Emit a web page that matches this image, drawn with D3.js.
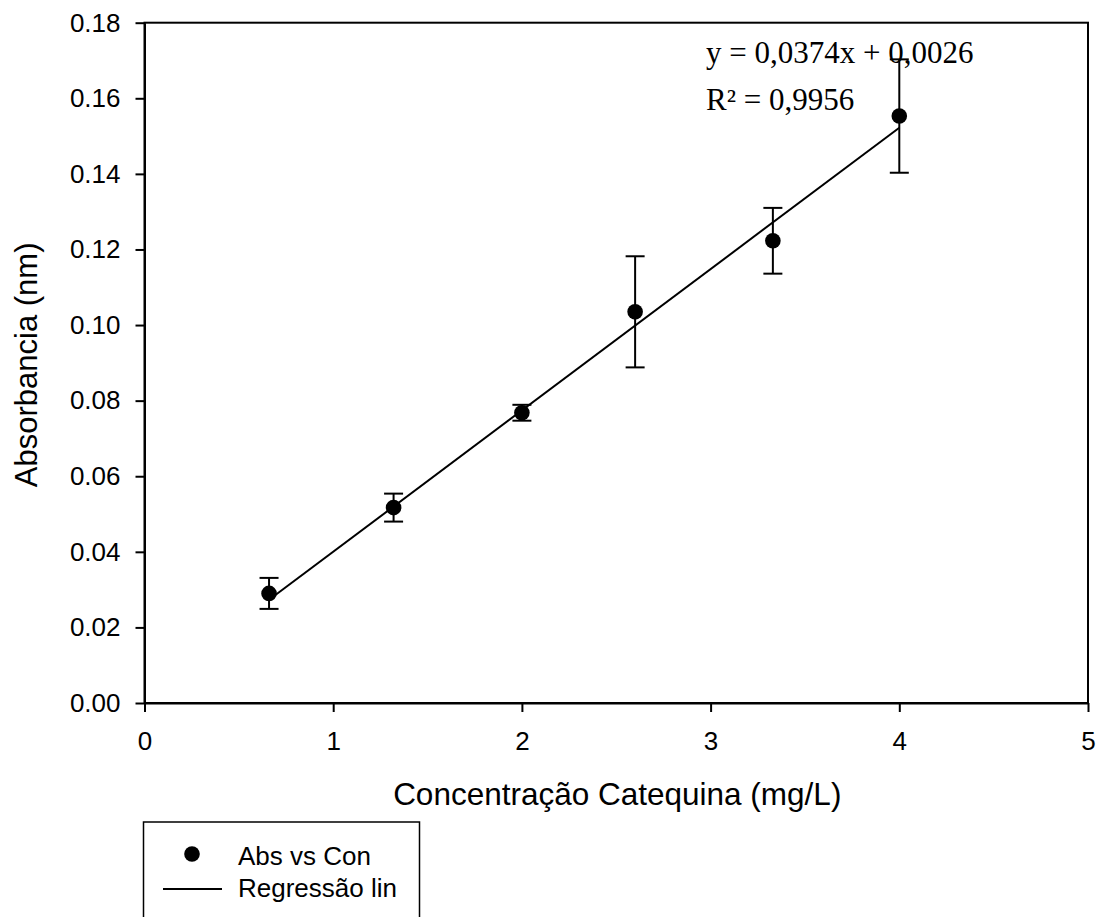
<!DOCTYPE html>
<html>
<head>
<meta charset="utf-8">
<script src="https://cdn.jsdelivr.net/npm/d3@7"></script>
<style>
  html, body { margin: 0; padding: 0; background: #fff; }
  svg { display: block; }
  text { font-family: "Liberation Sans", Arial, sans-serif; fill: #000; }
</style>
</head>
<body>
<svg id="chart" width="1100" height="917"></svg>
<script>
// ---- data ----
const concentration = [0.66, 1.32, 2.0, 2.6, 3.33, 4.0];
const absorbance   = [0.0290, 0.0517, 0.0768, 0.1035, 0.1223, 0.1553];
const errorSD      = [0.0041, 0.0037, 0.0021, 0.0147, 0.0087, 0.0150];
const regX = [0.66, 4.0];
const regY = [0.0273, 0.1522];
const xTicks = [0, 1, 2, 3, 4, 5];
const yTicks = [0, 0.02, 0.04, 0.06, 0.08, 0.10, 0.12, 0.14, 0.16, 0.18];
const equationText = "y = 0,0374x + 0,0026";
const r2Text = "R² = 0,9956";
const legendLabels = ["Abs vs Con", "Regressão lin"];
const xTitle = "Concentração Catequina (mg/L)";
const yTitle = "Absorbancia (nm)";

// ---- layout ----
const L = 144.5, R = 1088, T = 22.7, B = 703;
const svg = d3.select("#chart");
const x = d3.scaleLinear().domain([0, 5]).range([L, R]);
const y = d3.scaleLinear().domain([0, 0.18]).range([B, T]);

// frame
svg.append("rect")
  .attr("x", L).attr("y", T).attr("width", R - L).attr("height", B - T)
  .attr("fill", "none").attr("stroke", "#000").attr("stroke-width", 2);

// axes
const yAxis = d3.axisLeft(y).tickValues(yTicks).tickFormat(d3.format(".2f"))
  .tickSize(9).tickSizeOuter(0).tickPadding(15);
const gy = svg.append("g").attr("transform", `translate(${L},0)`).call(yAxis);
const xAxis = d3.axisBottom(x).tickValues(xTicks).tickFormat(d3.format("d"))
  .tickSize(9).tickSizeOuter(0).tickPadding(20);
const gx = svg.append("g").attr("transform", `translate(0,${B})`).call(xAxis);
[gx, gy].forEach(g => {
  g.select(".domain").attr("stroke", "#000").attr("stroke-width", 2);
  g.selectAll(".tick line").attr("stroke", "#000").attr("stroke-width", 2);
  g.selectAll(".tick text").attr("font-size", 26).attr("fill", "#000")
    .style("font-family", "'Liberation Sans', Arial, sans-serif");
});

// titles
svg.append("text").attr("x", (L + R) / 2 + 1).attr("y", 805)
  .attr("text-anchor", "middle").attr("font-size", 31.5).text(xTitle);
svg.append("text").attr("transform", `translate(37,${(T + B) / 2 + 2}) rotate(-90)`)
  .attr("text-anchor", "middle").attr("font-size", 31).text(yTitle);

// regression line
svg.append("line")
  .attr("x1", x(regX[0])).attr("y1", y(regY[0]))
  .attr("x2", x(regX[1])).attr("y2", y(regY[1]))
  .attr("stroke", "#000").attr("stroke-width", 2);

// error bars
const pts = concentration.map((c, i) => ({ c, a: absorbance[i], e: errorSD[i] }));
const eb = svg.append("g").attr("stroke", "#000").attr("stroke-width", 2);
pts.forEach(p => {
  eb.append("line").attr("x1", x(p.c)).attr("x2", x(p.c))
    .attr("y1", y(p.a + p.e)).attr("y2", y(p.a - p.e));
  [p.a + p.e, p.a - p.e].forEach(v => {
    eb.append("line").attr("x1", x(p.c) - 9.5).attr("x2", x(p.c) + 9.5)
      .attr("y1", y(v)).attr("y2", y(v));
  });
});

// points
svg.append("g").selectAll("circle").data(pts).join("circle")
  .attr("cx", d => x(d.c)).attr("cy", d => y(d.a)).attr("r", 7.8).attr("fill", "#000");

// equation text
svg.append("text").attr("x", 706).attr("y", 63)
  .style("font-family", "'Liberation Serif', 'Times New Roman', serif")
  .attr("font-size", 31).text(equationText);
svg.append("text").attr("x", 706).attr("y", 110)
  .style("font-family", "'Liberation Serif', 'Times New Roman', serif")
  .attr("font-size", 31).text(r2Text);

// legend
const lg = svg.append("g");
lg.append("rect").attr("x", 143.5).attr("y", 822).attr("width", 276).attr("height", 140)
  .attr("fill", "none").attr("stroke", "#000").attr("stroke-width", 1.5);
lg.append("circle").attr("cx", 192).attr("cy", 854).attr("r", 7.8).attr("fill", "#000");
lg.append("line").attr("x1", 163).attr("x2", 222).attr("y1", 889).attr("y2", 889)
  .attr("stroke", "#000").attr("stroke-width", 2);
lg.append("text").attr("x", 238).attr("y", 865).attr("font-size", 26).text(legendLabels[0]);
lg.append("text").attr("x", 238).attr("y", 897).attr("font-size", 26).text(legendLabels[1]);
</script>
</body>
</html>
